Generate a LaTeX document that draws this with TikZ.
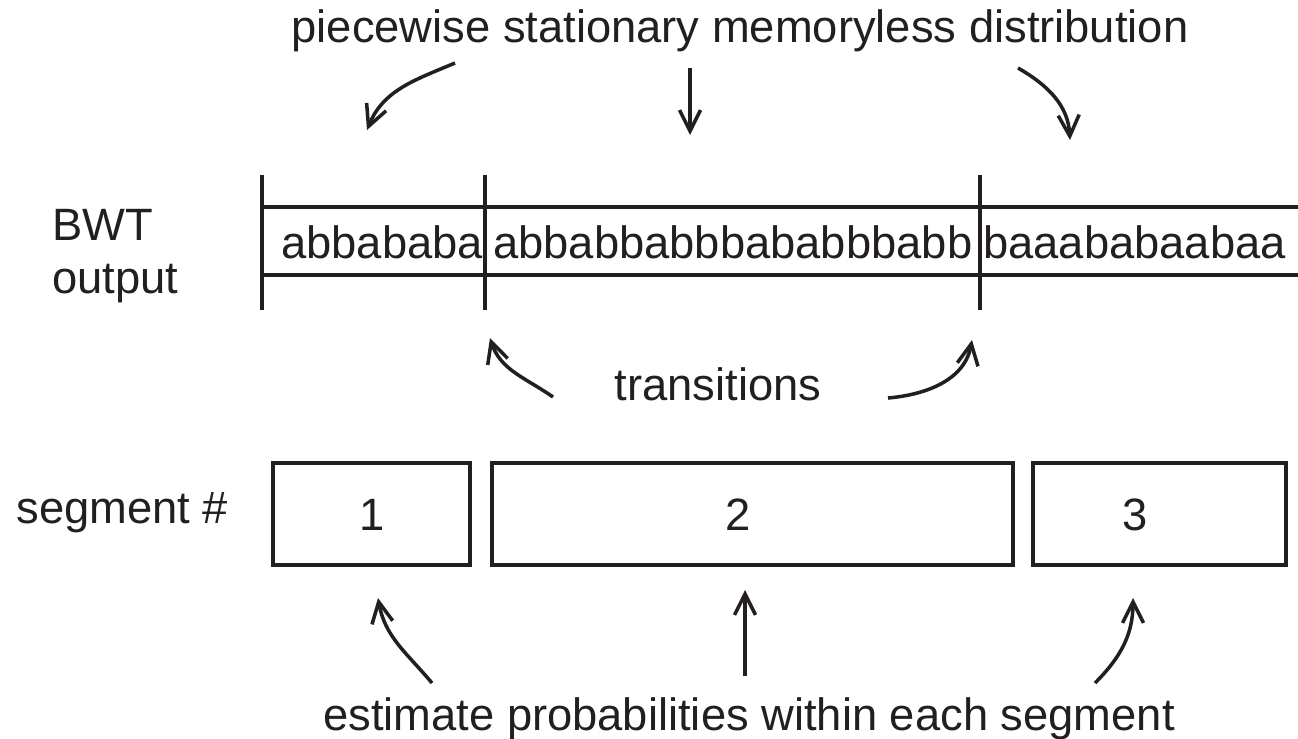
\documentclass[tikz,border=0pt]{standalone}
\usepackage{fontspec}
\setmainfont{Liberation Sans}
\usetikzlibrary{arrows.meta}
\definecolor{ink}{HTML}{231F20}
\begin{document}
\begin{tikzpicture}[x=0.02cm,y=-0.02cm,
  txt/.style={font=\fontsize{25.8pt}{31pt}\selectfont, inner sep=0pt, text=ink},
  rule/.style={line width=2.2pt, draw=ink},
  arr/.style={-{Straight Barb[length=4.2mm,width=4.2mm]}, line width=2pt, draw=ink},
  segbox/.style={draw=ink, line width=2.2pt, inner sep=0pt, minimum height=2.04cm}]
\useasboundingbox (0,0) rectangle (1298,738);

% title
\node[txt, anchor=base] (title) at (740,42) {piecewise stationary memoryless distribution};

% BWT output strip
\draw[rule] (262,207) -- (1298,207);
\draw[rule] (262,275) -- (1298,275);
\draw[rule] (262,175) -- (262,310);
\draw[rule] (485,175) -- (485,310);
\draw[rule] (980,175) -- (980,310);
\node[txt, anchor=base west] (c1) at (281,258) {abbababa};
\node[txt, anchor=base west] (c2) at (493,258) {abbabbabbbababbbabb};
\node[txt, anchor=base west] (c3) at (983,258) {baaababaabaa};

% left labels
\node[txt, anchor=base west] (bwt) at (52,240) {BWT};
\node[txt, anchor=base west] (out) at (52,293) {output};
\node[txt, anchor=base west] (segl) at (16,523) {segment \#};

% transitions
\node[txt, anchor=base] (trans) at (718,400) {transitions};

% segment boxes
\node[segbox, minimum width=3.94cm] (b1) at (371.5,514) {};
\node[segbox, minimum width=10.42cm] (b2) at (752.5,514) {};
\node[segbox, minimum width=5.06cm] (b3) at (1159.5,514) {};
\node[txt, anchor=base] (n1) at (372,530) {1};
\node[txt, anchor=base] (n2) at (738,530) {2};
\node[txt, anchor=base] (n3) at (1135,530) {3};

% bottom text
\node[txt, anchor=base] (est) at (749,730) {estimate probabilities within each segment};

% arrow end points
\coordinate (t1s) at (455,63);  \coordinate (t1e) at (367,130);
\coordinate (t2s) at (690,68);  \coordinate (t2e) at (690,135);
\coordinate (t3s) at (1018,68); \coordinate (t3e) at (1070,140);
\coordinate (m1s) at (553,397); \coordinate (m1e) at (490,338);
\coordinate (m2s) at (888,398); \coordinate (m2e) at (972,340);
\coordinate (u1s) at (432,683); \coordinate (u1e) at (378,598);
\coordinate (u2s) at (745,676); \coordinate (u2e) at (745,590);
\coordinate (u3s) at (1095,683);\coordinate (u3e) at (1133,598);

\draw[arr] (t1s) to[out=203,in=68] (t1e);
\draw[arr] (t2s) -- (t2e);
\draw[arr] (t3s) to[out=-30,in=93] (t3e);
\draw[arr] (m1s) to[out=145,in=-72] (m1e);
\draw[arr] (m2s) to[out=5,in=-100] (m2e);
\draw[arr] (u1s) to[out=130,in=-80] (u1e);
\draw[arr] (u2s) -- (u2e);
\draw[arr] (u3s) to[out=45,in=-90] (u3e);
\end{tikzpicture}
\end{document}
